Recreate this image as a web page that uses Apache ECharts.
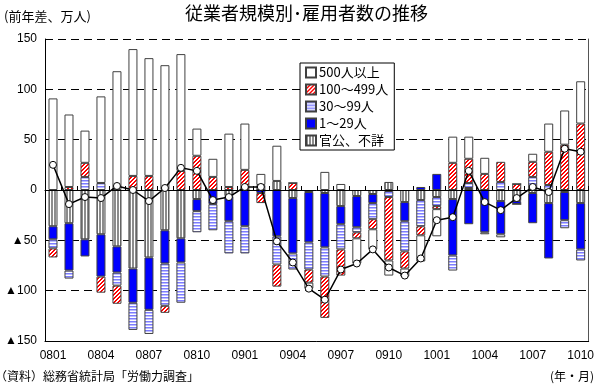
<!DOCTYPE html>
<html><head><meta charset="utf-8">
<script src="https://cdn.jsdelivr.net/npm/echarts@6/dist/echarts.min.js"></script>
<style>html,body{margin:0;padding:0;background:#fff}#c{width:597px;height:385px}</style>
</head><body><div id="c"></div>
<script>
const categories = ['0801','0802','0803','0804','0805','0806','0807','0808','0809','0810','0811','0812',
  '0901','0902','0903','0904','0905','0906','0907','0908','0909','0910','0911','0912',
  '1001','1002','1003','1004','1005','1006','1007','1008','1009','1010'];
const seriesNames = ['官公、不詳','1〜29人','30〜99人','100〜499人','500人以上'];
const govUnknown = [-36,-33,-49,-44,-56,-78,-67,-40,-48,-9,0,-6, 0,0,9,-8,-2,-3,-16,-6,-4,8,-12,-10, -7,-9,2,0,-11,-11,-3,-13,-2,-13];
const size1to29 = [-13,-47,-17,-42,-26,-34,-52,-33,-24,-12,-14,-25, -36,-3,-46,-55,-50,-54,-18,-31,-9,-1,-19,3, 16,-56,-34,-42,-33,-3,-30,-55,-28,-46];
const size30to99 = [-9,-8,13,7,-13,-27,-24,-42,-40,-21,-26,-32, -27,5,-28,-16,-27,-29,-25,-5,-16,-6,-30,-26, -9,-15,5,-2,8,0,13,5,-8,-11];
const size100to499 = [-9,3,14,-16,-18,14,14,-7,19,34,13,3, 20,-10,-22,7,-13,-41,-26,-6,-10,-63,-17,-9, -3,27,24,16,20,6,15,33,45,66];
const size500plus = [91,72,32,86,118,126,117,124,116,27,18,53, 46,11,35,0,-6,18,6,-25,-20,-15,-8,-26, -27,26,22,16,-3,0,8,28,34,42];
const totalLine = [25,-14,-7,-8,4,0,-11,2,22,19,-10,-7, 3,3,-51,-72,-98,-109,-79,-73,-59,-77,-85,-68, -30,-27,19,-12,-20,-8,3,-2,41,38];
const yTicks = {min:-150, max:150, step:50};

function pat(w,h,draw){const c=document.createElement('canvas');c.width=w;c.height=h;const g=c.getContext('2d');draw(g);return {image:c,repeat:'repeat'};}
const redHatch = pat(4,4,g=>{g.fillStyle='#fff';g.fillRect(0,0,4,4);g.fillStyle='#ff0000';for(let i=0;i<4;i++){g.fillRect(i,(3-i+4)%4,1,1);g.fillRect(i,(4-i)%4,1,1);}});
const lbStripe = pat(2,3,g=>{g.fillStyle='#ffffff';g.fillRect(0,0,2,3);g.fillStyle='#7c7cff';g.fillRect(0,0,2,1);g.fillStyle='#bcbcff';g.fillRect(0,1,2,1);});
const grayStripe = pat(3,2,g=>{g.fillStyle='#ffffff';g.fillRect(0,0,3,2);g.fillStyle='#8c8c8c';g.fillRect(0,0,2,2);});
const fills = [grayStripe, '#0000ff', lbStripe, redHatch, '#ffffff'];
const dataSets = [govUnknown,size1to29,size30to99,size100to499,size500plus];

const chart = echarts.init(document.getElementById('c'),null,{renderer:'canvas'});
const barSeries = seriesNames.map((n,i)=>({
  name:n, type:'bar', stack:'all', xAxisIndex:0, yAxisIndex:0, barWidth:9,
  itemStyle:{color:fills[i], borderColor:'#404040', borderWidth:1},
  data:dataSets[i]
}));
const jp = '"Noto Sans CJK JP", sans-serif';
chart.setOption({
  animation:false,
  backgroundColor:'#fff',
  grid:{left:45,right:6,top:39,bottom:44,containLabel:false},
  legend:{
    data:['500人以上','100〜499人','30〜99人','1〜29人','官公、不詳'],
    orient:'vertical', left:300, top:63, padding:[3,6,3,5], itemGap:4,
    itemWidth:10, itemHeight:10, icon:'rect',
    borderColor:'#000', borderWidth:1, backgroundColor:'#fff', borderRadius:0,
    textStyle:{fontFamily:jp, fontSize:13, color:'#000', padding:[0,0,0,-2]},
    selectedMode:false
  },
  xAxis:[
    {type:'category', data:categories, position:'bottom', boundaryGap:true,
     axisLine:{onZero:true, lineStyle:{color:'#000',width:1}},
     axisTick:{show:true, inside:true, length:4, interval:0, lineStyle:{color:'#000'}},
     axisLabel:{show:false}, splitLine:{show:false}, z:5},
    {type:'category', data:categories, position:'bottom', boundaryGap:true,
     axisLine:{onZero:false, lineStyle:{color:'#000',width:1}},
     axisTick:{show:false},
     axisLabel:{interval:2, color:'#000', fontSize:12, fontFamily:'"Liberation Sans", Arial, sans-serif', margin:9},
     splitLine:{show:false}}
  ],
  yAxis:[
    {type:'value', min:yTicks.min, max:yTicks.max, interval:yTicks.step,
     axisLine:{show:true, lineStyle:{color:'#000'}}, axisTick:{show:false},
     axisLabel:{color:'#000', fontSize:12, margin:8, fontFamily:'"Liberation Sans", "DejaVu Sans", sans-serif',
       formatter:v=> v<0 ? '▲'+(-v) : String(v)},
     splitLine:{show:true, lineStyle:{color:'#000', type:[8,5], width:1}}},
    {type:'value', min:yTicks.min, max:yTicks.max, interval:yTicks.step, position:'right',
     axisLine:{show:true, lineStyle:{color:'#555'}}, axisTick:{show:false}, axisLabel:{show:false}, splitLine:{show:false}}
  ],
  graphic:[
    {type:'text', left:4, top:10, style:{text:'(前年差、万人)', font:'13px '+jp, fill:'#000'}},
    {type:'text', left:185, top:4, style:{text:'従業者規模別･雇用者数の推移', font:'18px '+jp, fill:'#000'}},
    {type:'text', left:-5, top:370, style:{text:'（資料）総務省統計局「労働力調査」', font:'12px '+jp, fill:'#000'}},
    {type:'text', right:3, top:370, style:{text:'(年・月)', font:'12px '+jp, fill:'#000'}}
  ],
  series:[...barSeries,
    {name:'計', type:'line', xAxisIndex:0, yAxisIndex:0, data:totalLine, z:10,
     symbol:'circle', symbolSize:7, showAllSymbol:true,
     lineStyle:{color:'#000', width:1.5}, itemStyle:{color:'#fff', borderColor:'#000', borderWidth:1}}
  ]
});
</script></body></html>
